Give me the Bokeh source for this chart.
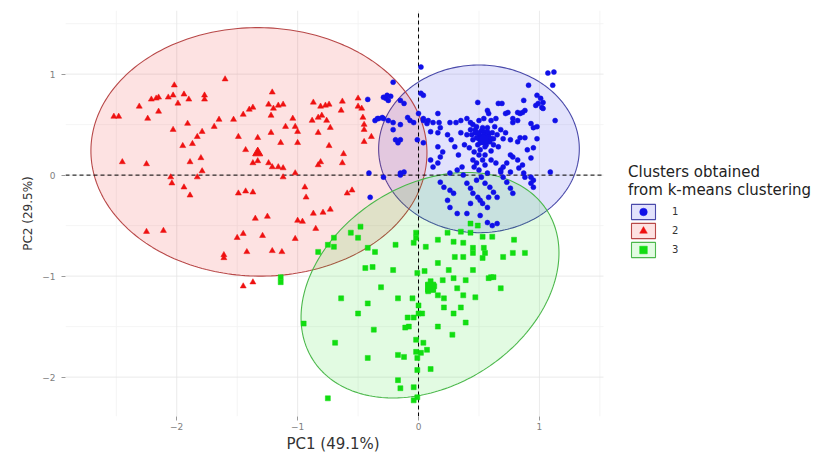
import numpy as np
from bokeh.plotting import figure
from bokeh.models import Range1d, FixedTicker, Legend, LegendItem, Title
from bokeh.embed import file_html
from bokeh.resources import INLINE

# ---------------- data ----------------
cluster_labels = ["1", "2", "3"]
cluster_colors = ["#1010E8", "#EE1111", "#11DD11"]
ellipse_line_colors = ["#4A4AAA", "#B84848", "#4CB84C"]

# cluster 1 (blue circles): (PC1, PC2)
blue_points = [
    (1.12, 1.02), (1.07, 1.01), (1.11, 0.89), (0.91, 0.89), (0.98, 0.79), (1.01, 0.76), (1.03, 0.72),
    (0.99, 0.71), (1.02, 0.67), (0.97, 0.69), (1.03, 0.66), (0.87, 0.74), (0.88, 0.64), (0.86, 0.62),
    (0.84, 0.61), (0.82, 0.62), (1.13, 0.54), (0.78, 0.56), (0.82, 0.54), (0.78, 0.52), (0.74, 0.62),
    (0.72, 0.61), (0.66, 0.71), (0.69, 0.71), (0.49, 0.72), (0.57, 0.64), (0.58, 0.61), (0.16, 0.61),
    (0.17, 0.52), (0.04, 0.54), (0.08, 0.54), (0.12, 0.52), (0.26, 0.52), (0.31, 0.52), (0.35, 0.54),
    (0.40, 0.56), (0.43, 0.52), (0.45, 0.50), (0.50, 0.54), (0.54, 0.56), (0.60, 0.54), (0.64, 0.56),
    (0.93, 0.51), (0.95, 0.47), (0.98, 0.48), (0.84, 0.37), (0.88, 0.37), (0.76, 0.35), (0.82, 0.33),
    (0.98, 0.36), (0.95, 0.27), (0.93, 0.17), (0.90, 0.25), (0.76, 0.20), (0.78, 0.18), (0.82, 0.15),
    (0.86, 0.10), (0.83, 0.07), (0.95, -0.05), (0.93, -0.08), (0.70, 0.08), (0.73, 0.12), (0.68, 0.03),
    (0.76, 0.03), (1.09, 0.03), (0.87, 0.02), (0.93, -0.02), (0.95, -0.12),
    (0.43, 0.45), (0.47, 0.42), (0.50, 0.40), (0.52, 0.44), (0.55, 0.38), (0.58, 0.41), (0.60, 0.36),
    (0.53, 0.33), (0.49, 0.30), (0.45, 0.35), (0.56, 0.30), (0.62, 0.30), (0.65, 0.40), (0.68, 0.45),
    (0.40, 0.40), (0.57, 0.47), (0.51, 0.25), (0.46, 0.23), (0.60, 0.24), (0.66, 0.28), (0.70, 0.36),
    (0.38, 0.30), (0.42, 0.27), (0.55, 0.20), (0.63, 0.48), (0.48, 0.48), (0.35, 0.42), (0.72, 0.42),
    (0.54, 0.43), (0.59, 0.33),
    (0.50, 0.36), (0.52, 0.38), (0.56, 0.35), (0.54, 0.40), (0.48, 0.37), (0.51, 0.32), (0.57, 0.43),
    (0.61, 0.42), (0.47, 0.45), (0.44, 0.40), (0.53, 0.47), (0.58, 0.38), (0.62, 0.36), (0.49, 0.42),
    (0.55, 0.28), (0.50, 0.20), (0.53, 0.15), (0.48, 0.12), (0.55, 0.10), (0.50, 0.05), (0.46, 0.08),
    (0.57, 0.02), (0.52, -0.02), (0.48, -0.05), (0.55, -0.08), (0.45, 0.15), (0.60, 0.15), (0.64, 0.12),
    (0.33, 0.20), (0.30, 0.28), (0.27, 0.35), (0.24, 0.40),
    (-0.29, 0.56), (-0.33, 0.56), (-0.36, 0.54), (-0.25, 0.54), (-0.21, 0.52), (-0.27, 0.76), (-0.23, 0.78),
    (-0.25, 0.74), (-0.15, 0.74), (-0.12, 0.71), (-0.21, 0.45), (-0.15, 0.50), (-0.19, 0.35), (-0.15, 0.35),
    (-0.17, 0.32), (-0.09, 0.57), (-0.07, 0.54), (-0.04, 0.52), (0.02, 1.07), (0.02, 0.81), (0.04, 0.79),
    (0.00, 0.61), (0.04, 0.56), (0.07, 0.51), (-0.01, 0.35), (0.04, 0.32), (0.10, 0.43), (0.16, 0.42),
    (0.18, 0.47), (0.16, 0.28), (0.20, 0.23), (0.18, 0.18), (-0.12, 0.03), (-0.15, 0.00), (-0.29, -0.02),
    (0.10, 0.15), (0.12, 0.08), (0.16, 0.12), (-0.42, 0.75), (-0.29, 0.77), (-0.26, 0.79), (-0.21, 0.92),
    (-0.34, 0.56), (-0.30, 0.57), (-0.41, 0.02), (-0.40, -0.22), (-0.15, 0.02),
    (0.18, -0.07), (0.21, -0.12), (0.26, -0.15), (0.29, -0.18), (0.26, 0.02), (0.32, 0.05), (0.36, 0.08),
    (0.37, 0.00), (0.40, -0.08), (0.43, -0.13), (0.45, -0.18), (0.49, -0.22), (0.51, -0.25), (0.53, -0.28),
    (0.57, -0.32), (0.43, -0.28), (0.59, -0.12), (0.62, -0.17), (0.65, -0.22), (0.58, -0.22), (0.24, -0.25),
    (0.26, -0.32), (0.32, -0.38), (0.40, -0.38), (0.51, -0.40), (0.57, -0.47), (0.61, -0.50), (0.65, -0.48),
    (0.68, 0.05), (0.70, -0.02), (0.73, -0.07), (0.76, -0.13), (0.78, -0.18), (0.88, -0.02),
]

# cluster 2 (red triangles)
red_points = [
    (-2.52, 0.58), (-2.48, 0.58), (-2.45, 0.13), (-2.25, 0.11), (-2.31, 0.68), (-2.24, 0.56), (-2.21, 0.75),
    (-2.17, 0.76), (-2.15, 0.77), (-2.15, 0.63), (-2.07, 0.77), (-2.03, 0.79), (-2.02, 0.89), (-1.99, 0.71),
    (-1.94, 0.80), (-1.90, 0.75), (-2.03, 0.45), (-1.91, 0.51), (-1.95, 0.29), (-1.87, 0.31), (-1.89, 0.13),
    (-2.05, -0.02), (-2.04, -0.08), (-1.94, -0.12), (-1.89, -0.20), (-1.83, -0.02), (-1.80, 0.17), (-1.79, 0.04),
    (-1.77, 0.79), (-1.77, 0.75), (-1.83, 0.38), (-1.79, 0.43), (-1.69, 0.48), (-1.65, 0.55), (-1.60, 0.95),
    (-1.53, 0.55), (-1.49, 0.38), (-1.45, 0.60), (-1.40, 0.65), (-1.37, 0.67), (-1.43, 0.25), (-1.33, 0.37),
    (-1.37, 0.12), (-1.33, 0.14), (-1.49, -0.18), (-1.43, -0.16), (-1.37, -0.17), (-1.35, -0.43), (-1.25, -0.41),
    (-1.24, 0.12), (-1.21, 0.08), (-1.21, 0.82), (-1.24, 0.70), (-1.20, 0.66), (-1.16, 0.69), (-1.12, 0.70),
    (-1.22, 0.59), (-1.22, 0.42), (-1.14, 0.32), (-1.16, 0.08), (-1.12, 0.07), (-1.12, -0.02), (-1.10, 0.48),
    (-1.04, 0.56), (-1.02, 0.48), (-1.00, 0.43), (-1.00, 0.32), (-1.02, 0.02), (-1.00, -0.45), (-0.96, -0.46),
    (-0.94, -0.12), (-0.93, -0.22), (-0.87, 0.72), (-0.81, 0.68), (-0.77, 0.69), (-0.74, 0.70), (-0.88, 0.54),
    (-0.83, 0.57), (-0.80, 0.59), (-0.76, 0.54), (-0.73, 0.47), (-0.83, 0.42), (-0.81, 0.13), (-0.83, 0.10),
    (-0.74, 0.29), (-0.63, 0.73), (-0.64, 0.64), (-0.62, 0.21), (-0.63, 0.12), (-0.59, -0.18), (-0.55, -0.15),
    (-0.87, -0.38), (-0.79, -0.37), (-0.73, -0.34), (-0.50, 0.76), (-0.50, 0.68), (-0.47, 0.66), (-0.46, 0.57),
    (-0.45, 0.50), (-0.45, 0.45), (-0.45, 0.33), (-0.39, 0.38), (-2.25, -0.56), (-2.11, -0.55), (-1.50, -0.62),
    (-1.45, -0.58), (-1.61, -0.79), (-1.61, -0.82), (-1.42, -0.76), (-1.29, -0.60), (-1.21, -0.75), (-1.13, -0.76),
    (-1.02, -0.63), (-0.85, -0.53), (-1.45, -1.10), (-1.37, -1.06),
]

# cluster 3 (green squares)
green_points = [
    (-0.02, -0.57), (-0.70, -0.62), (-0.50, -0.62), (-0.83, -0.76), (-0.75, -0.69), (-0.70, -0.71), (-0.56, -0.57),
    (-0.48, -0.51), (-0.42, -0.72), (-0.36, -0.76), (-0.44, -0.92), (-0.38, -0.91), (-0.19, -0.69), (-0.21, -0.94),
    (0.06, -0.71), (0.16, -0.64), (0.24, -0.57), (0.29, -0.66), (0.35, -0.56), (0.43, -0.57), (0.53, -0.61),
    (0.61, -0.61), (0.43, -0.48), (0.49, -0.50), (0.37, -0.67), (0.45, -0.72), (0.54, -0.72), (0.55, -0.77),
    (0.30, -0.81), (0.37, -0.81), (0.45, -0.77), (0.53, -0.82), (0.70, -0.81), (0.79, -0.64), (0.88, -0.77),
    (0.16, -0.87), (0.25, -0.94), (0.45, -0.94), (0.60, -1.01), (0.20, -1.04), (0.29, -1.02), (0.39, -1.04),
    (0.16, -1.19), (0.21, -1.22), (0.32, -1.12), (0.37, -1.19), (0.47, -1.21), (0.68, -1.12), (0.21, -1.31),
    (0.29, -1.37), (0.35, -1.31), (0.39, -1.46), (0.28, -1.58), (0.16, -1.50), (0.03, -1.37), (-0.04, -1.41),
    (-0.09, -1.41), (-0.08, -1.50), (-0.11, -1.51), (-0.64, -1.22), (-0.42, -1.27), (-0.50, -1.37), (-0.17, -1.22),
    (-0.31, -1.11), (-0.37, -1.53), (-0.69, -1.66), (-0.42, -1.81), (-0.02, -1.63), (0.04, -1.66), (0.07, -1.73),
    (0.02, -1.76), (-0.02, -1.75), (-0.17, -1.78), (-0.12, -1.80), (-0.01, -1.81), (-0.01, -1.93), (0.10, -1.92),
    (-0.17, -2.03), (-0.15, -2.11), (-0.04, -2.10), (-0.01, -2.20), (-0.04, -2.23), (-0.75, -2.21), (-0.95, -1.47),
    (0.00, -1.29), (0.00, -1.37), (-0.05, -1.22), (-0.01, -0.97), (0.58, -1.02), (0.62, -1.01), (0.78, -0.77),
    (-1.14, -1.01), (-1.14, -1.06), (-0.02, -0.62), (-0.04, -0.67), (0.10, -1.05), (0.13, -1.10), (0.08, -1.15),
    (0.05, -0.95),
]

# cluster centres (PC1, PC2)
centre_pc1 = [0.54, -1.33, 0.10]
centre_pc2 = [0.35, 0.22, -1.11]

# confidence ellipses: centre, semi-axes, rotation (degrees)
ellipse_cx = [0.50, -1.32, 0.095]
ellipse_cy = [0.26, 0.23, -1.09]
ellipse_a = [0.83, 1.39, 1.24]
ellipse_b = [0.83, 1.23, 0.92]
ellipse_angle = [0.0, -2.0, 49.5]

# panel limits and ticks
panel_x = (-2.92, 1.53)
panel_y = (-2.39, 1.63)
x_ticks = [-2, -1, 0, 1]
y_ticks = [-2, -1, 0, 1]
minor_ticks = [-2.5, -1.5, -0.5, 0.5, 1.5]
x_title = "PC1 (49.1%)"
y_title = "PC2 (29.5%)"
legend_title = "Clusters obtained\nfrom k-means clustering"

# ---------------- figure ----------------
FONT = "DejaVu Sans"
W, H = 838, 452
LEFT, TOP, BOTTOM = 65, 10, 36
PANEL_PX = 538                      # width of the visible panel in pixels
frame_w = W - LEFT
x_end = panel_x[0] + (panel_x[1] - panel_x[0]) * frame_w / PANEL_PX

p = figure(width=W, height=H, output_backend="svg", toolbar_location=None,
           x_range=Range1d(panel_x[0], x_end), y_range=Range1d(*panel_y),
           min_border_left=LEFT, min_border_right=0, min_border_top=TOP, min_border_bottom=BOTTOM,
           background_fill_color="white", border_fill_color="white")
p.outline_line_color = None
p.xgrid.visible = False
p.ygrid.visible = False

for ax, ticks in ((p.xaxis, x_ticks), (p.yaxis, y_ticks)):
    ax.ticker = FixedTicker(ticks=ticks)
    ax.axis_line_color = None
    ax.major_tick_line_color = "#9A9A9A"
    ax.major_tick_out = 4
    ax.major_tick_in = 0
    ax.minor_tick_out = 0
    ax.minor_tick_in = 0
    ax.major_label_text_font = FONT
    ax.major_label_text_font_size = "9px"
    ax.major_label_text_color = "#808080"

p.xaxis.major_label_standoff = 2
p.yaxis.axis_label = y_title
p.yaxis.axis_label_text_font = FONT
p.yaxis.axis_label_text_font_size = "12px"
p.yaxis.axis_label_text_font_style = "normal"
p.yaxis.axis_label_text_color = "#333333"
p.yaxis.major_label_standoff = 6
p.yaxis.axis_label_standoff = 4

# x title centred under the visible panel
p.add_layout(Title(text=x_title, align="left", offset=286 - LEFT, standoff=0,
                   text_font=FONT, text_font_size="15px", text_font_style="normal",
                   text_color="#333333"), "below")

# grid lines restricted to the panel
n_minor = len(minor_ticks)
p.segment(x0=minor_ticks, y0=[panel_y[0]] * n_minor, x1=minor_ticks, y1=[panel_y[1]] * n_minor,
          line_color="#F1F1F1", line_width=0.8)
p.segment(x0=[panel_x[0]] * n_minor, y0=minor_ticks, x1=[panel_x[1]] * n_minor, y1=minor_ticks,
          line_color="#F1F1F1", line_width=0.8)
p.segment(x0=x_ticks, y0=[panel_y[0]] * len(x_ticks), x1=x_ticks, y1=[panel_y[1]] * len(x_ticks),
          line_color="#E4E4E4", line_width=0.8)
p.segment(x0=[panel_x[0]] * len(y_ticks), y0=y_ticks, x1=[panel_x[1]] * len(y_ticks), y1=y_ticks,
          line_color="#E4E4E4", line_width=0.8)

# ellipses
ellipse_renderers = []
t = np.linspace(0, 2 * np.pi, 241)
for i in range(3):
    th = np.deg2rad(ellipse_angle[i])
    ex = ellipse_cx[i] + ellipse_a[i] * np.cos(t) * np.cos(th) - ellipse_b[i] * np.sin(t) * np.sin(th)
    ey = ellipse_cy[i] + ellipse_a[i] * np.cos(t) * np.sin(th) + ellipse_b[i] * np.sin(t) * np.cos(th)
    r = p.patch(ex, ey, fill_color=cluster_colors[i], fill_alpha=0.12,
                line_color=ellipse_line_colors[i], line_width=1.1)
    ellipse_renderers.append(r)

# dashed reference lines at 0
p.segment(x0=[0, panel_x[0]], y0=[panel_y[0], 0], x1=[0, panel_x[1]], y1=[panel_y[1], 0],
          line_color="black", line_dash="4 3", line_width=1)

# points
markers = ["circle", "triangle", "square"]
sizes = [5, 6, 5]
point_sets = [blue_points, red_points, green_points]
point_renderers = []
for i in range(3):
    xs = [pt[0] for pt in point_sets[i]]
    ys = [pt[1] for pt in point_sets[i]]
    r = p.scatter(xs, ys, marker=markers[i], size=sizes[i],
                  fill_color=cluster_colors[i], line_color=cluster_colors[i], line_width=0.5)
    point_renderers.append(r)

# cluster centres
for i in range(3):
    p.scatter([centre_pc1[i]], [centre_pc2[i]], marker=markers[i], size=10,
              fill_color=cluster_colors[i], line_color=cluster_colors[i])

# legend (placed beside the panel)
items = [LegendItem(label=cluster_labels[i], renderers=[ellipse_renderers[i], point_renderers[i]])
         for i in range(3)]
legend = Legend(items=items, title=legend_title, location=(563, 157),
                orientation="vertical",
                margin=0, padding=10, spacing=0,
                glyph_width=30, glyph_height=19, label_height=19,
                label_standoff=14,
                title_text_font=FONT, title_text_font_size="15px", title_text_color="#222222",
                title_text_font_style="normal", title_standoff=3,
                label_text_font=FONT, label_text_font_size="10px", label_text_color="#333333",
                border_line_color=None, background_fill_alpha=0)
p.add_layout(legend)

open("out.html", "w").write(file_html(p, INLINE))
